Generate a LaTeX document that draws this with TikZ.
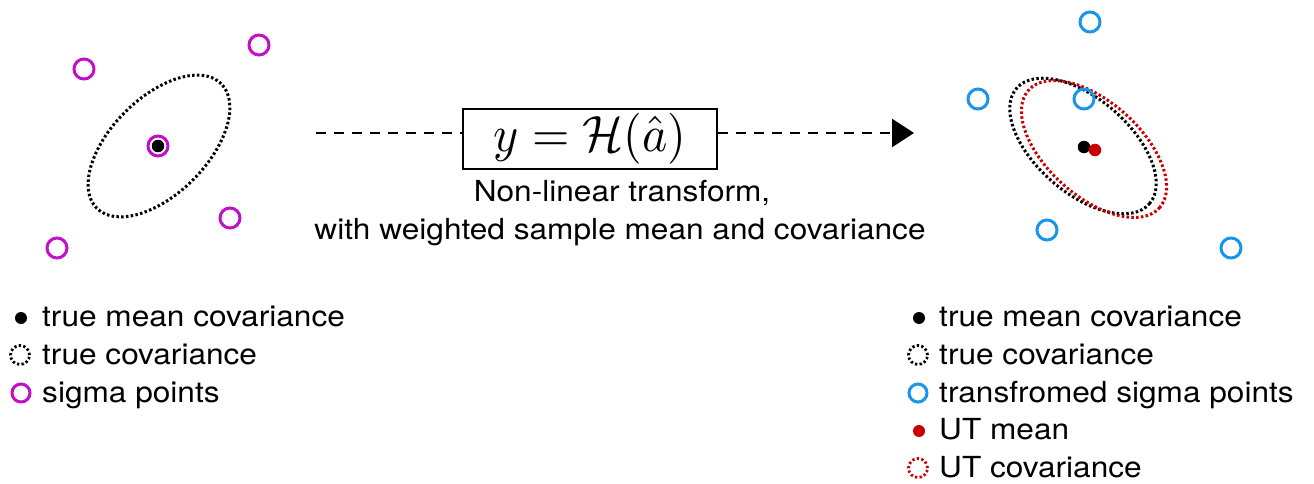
\documentclass[tikz,border=0pt]{standalone}
\usepackage{fontspec}
\usepackage{graphicx}
\setmainfont{TeX Gyre Heros}
\usetikzlibrary{arrows.meta}
\definecolor{magC}{RGB}{192,16,200}
\definecolor{bluC}{RGB}{25,150,235}
\definecolor{redC}{RGB}{200,0,0}
\newcommand\sx[1]{\scalebox{1.09}[1]{#1}}
\tikzset{
  dotline/.style={line width=3pt, dash pattern=on 2.5pt off 2.3pt},
  sigmaL/.style={circle, draw=magC, line width=3pt, minimum size=20pt, inner sep=0pt},
  sigmaR/.style={circle, draw=bluC, line width=3pt, minimum size=20pt, inner sep=0pt},
  meandot/.style={circle, fill=#1, minimum size=12.5pt, inner sep=0pt},
  legdot/.style={circle, fill=#1, minimum size=12pt, inner sep=0pt},
  legring/.style={circle, draw=#1, line width=2.8pt, dash pattern=on 2.3pt off 2.3pt, minimum size=19pt, inner sep=0pt},
  legtext/.style={anchor=base west, inner sep=0pt, font=\fontsize{29}{34}\selectfont},
  midtext/.style={anchor=base, inner sep=0pt, font=\fontsize{29}{34}\selectfont},
  dashconn/.style={line width=2.7pt, dash pattern=on 10pt off 8pt},
}
\begin{document}
\begin{tikzpicture}[x=1pt,y=-1pt]
\useasboundingbox (0,0) rectangle (1314,484);
% left distribution
\draw[dotline, shift={(159,146)}, rotate=45] (0,0) ellipse [x radius=88pt, y radius=48pt];
\node[sigmaL] (s0) at (158,146) {};
\node[meandot=black] (m0) at (158,146) {};
\node[sigmaL] (s1) at (84,69) {};
\node[sigmaL] (s2) at (259,45) {};
\node[sigmaL] (s3) at (230,218) {};
\node[sigmaL] (s4) at (57,248) {};
% right distribution
\draw[dotline, shift={(1083,146)}, rotate=-41] (0,0) ellipse [x radius=88pt, y radius=47pt];
\draw[dotline, draw=redC, shift={(1094,149)}, rotate=-42] (0,0) ellipse [x radius=88pt, y radius=47pt];
\node[sigmaR] (t1) at (1090,22) {};
\node[sigmaR] (t2) at (978,99) {};
\node[sigmaR] (t3) at (1084,99) {};
\node[sigmaR] (t4) at (1047,230) {};
\node[sigmaR] (t5) at (1231,248) {};
\node[meandot=black] (m1) at (1084,147) {};
\node[meandot=redC] (m2) at (1095,150) {};
% transform
\node[draw, line width=2.5pt, minimum width=254pt, minimum height=60pt, inner sep=0pt] (H) at (590,139) {\scalebox{4.8}[5.1]{$y=\mathcal{H}(\hat a)$}};
\coordinate (aL) at (316,133);
\coordinate (aR) at (914,133);
\draw[dashconn] (aL) -- (aL -| H.west);
\draw[dashconn, -{Triangle[length=22pt,width=28pt]}] (aL -| H.east) -- (aR);
\node[midtext] (n1) at (622,201) {\sx{Non-linear transform,}};
\node[midtext] (n2) at (620,239) {\sx{with weighted sample mean and covariance}};
% left legend
\node[legdot=black] (ld1) at (21,318) {};
\node[legtext] (lt1) at (42,326) {\sx{true mean covariance}};
\node[legring=black] (ld2) at (20,355) {};
\node[legtext] (lt2) at (42,364) {\sx{true covariance}};
\node[circle, draw=magC, line width=3pt, minimum size=18pt, inner sep=0pt] (ld3) at (21,393) {};
\node[legtext] (lt3) at (42,402) {\sx{sigma points}};
% right legend
\node[legdot=black] (rd1) at (919,318) {};
\node[legtext] (rt1) at (939,326) {\sx{true mean covariance}};
\node[legring=black] (rd2) at (918,355) {};
\node[legtext] (rt2) at (939,364) {\sx{true covariance}};
\node[circle, draw=bluC, line width=3pt, minimum size=18pt, inner sep=0pt] (rd3) at (918,393) {};
\node[legtext] (rt3) at (939,402) {\sx{transfromed sigma points}};
\node[legdot=redC] (rd4) at (919,431) {};
\node[legtext] (rt4) at (939,439) {\sx{UT mean}};
\node[legring=redC] (rd5) at (918,468) {};
\node[legtext] (rt5) at (939,477) {\sx{UT covariance}};
\end{tikzpicture}
\end{document}
